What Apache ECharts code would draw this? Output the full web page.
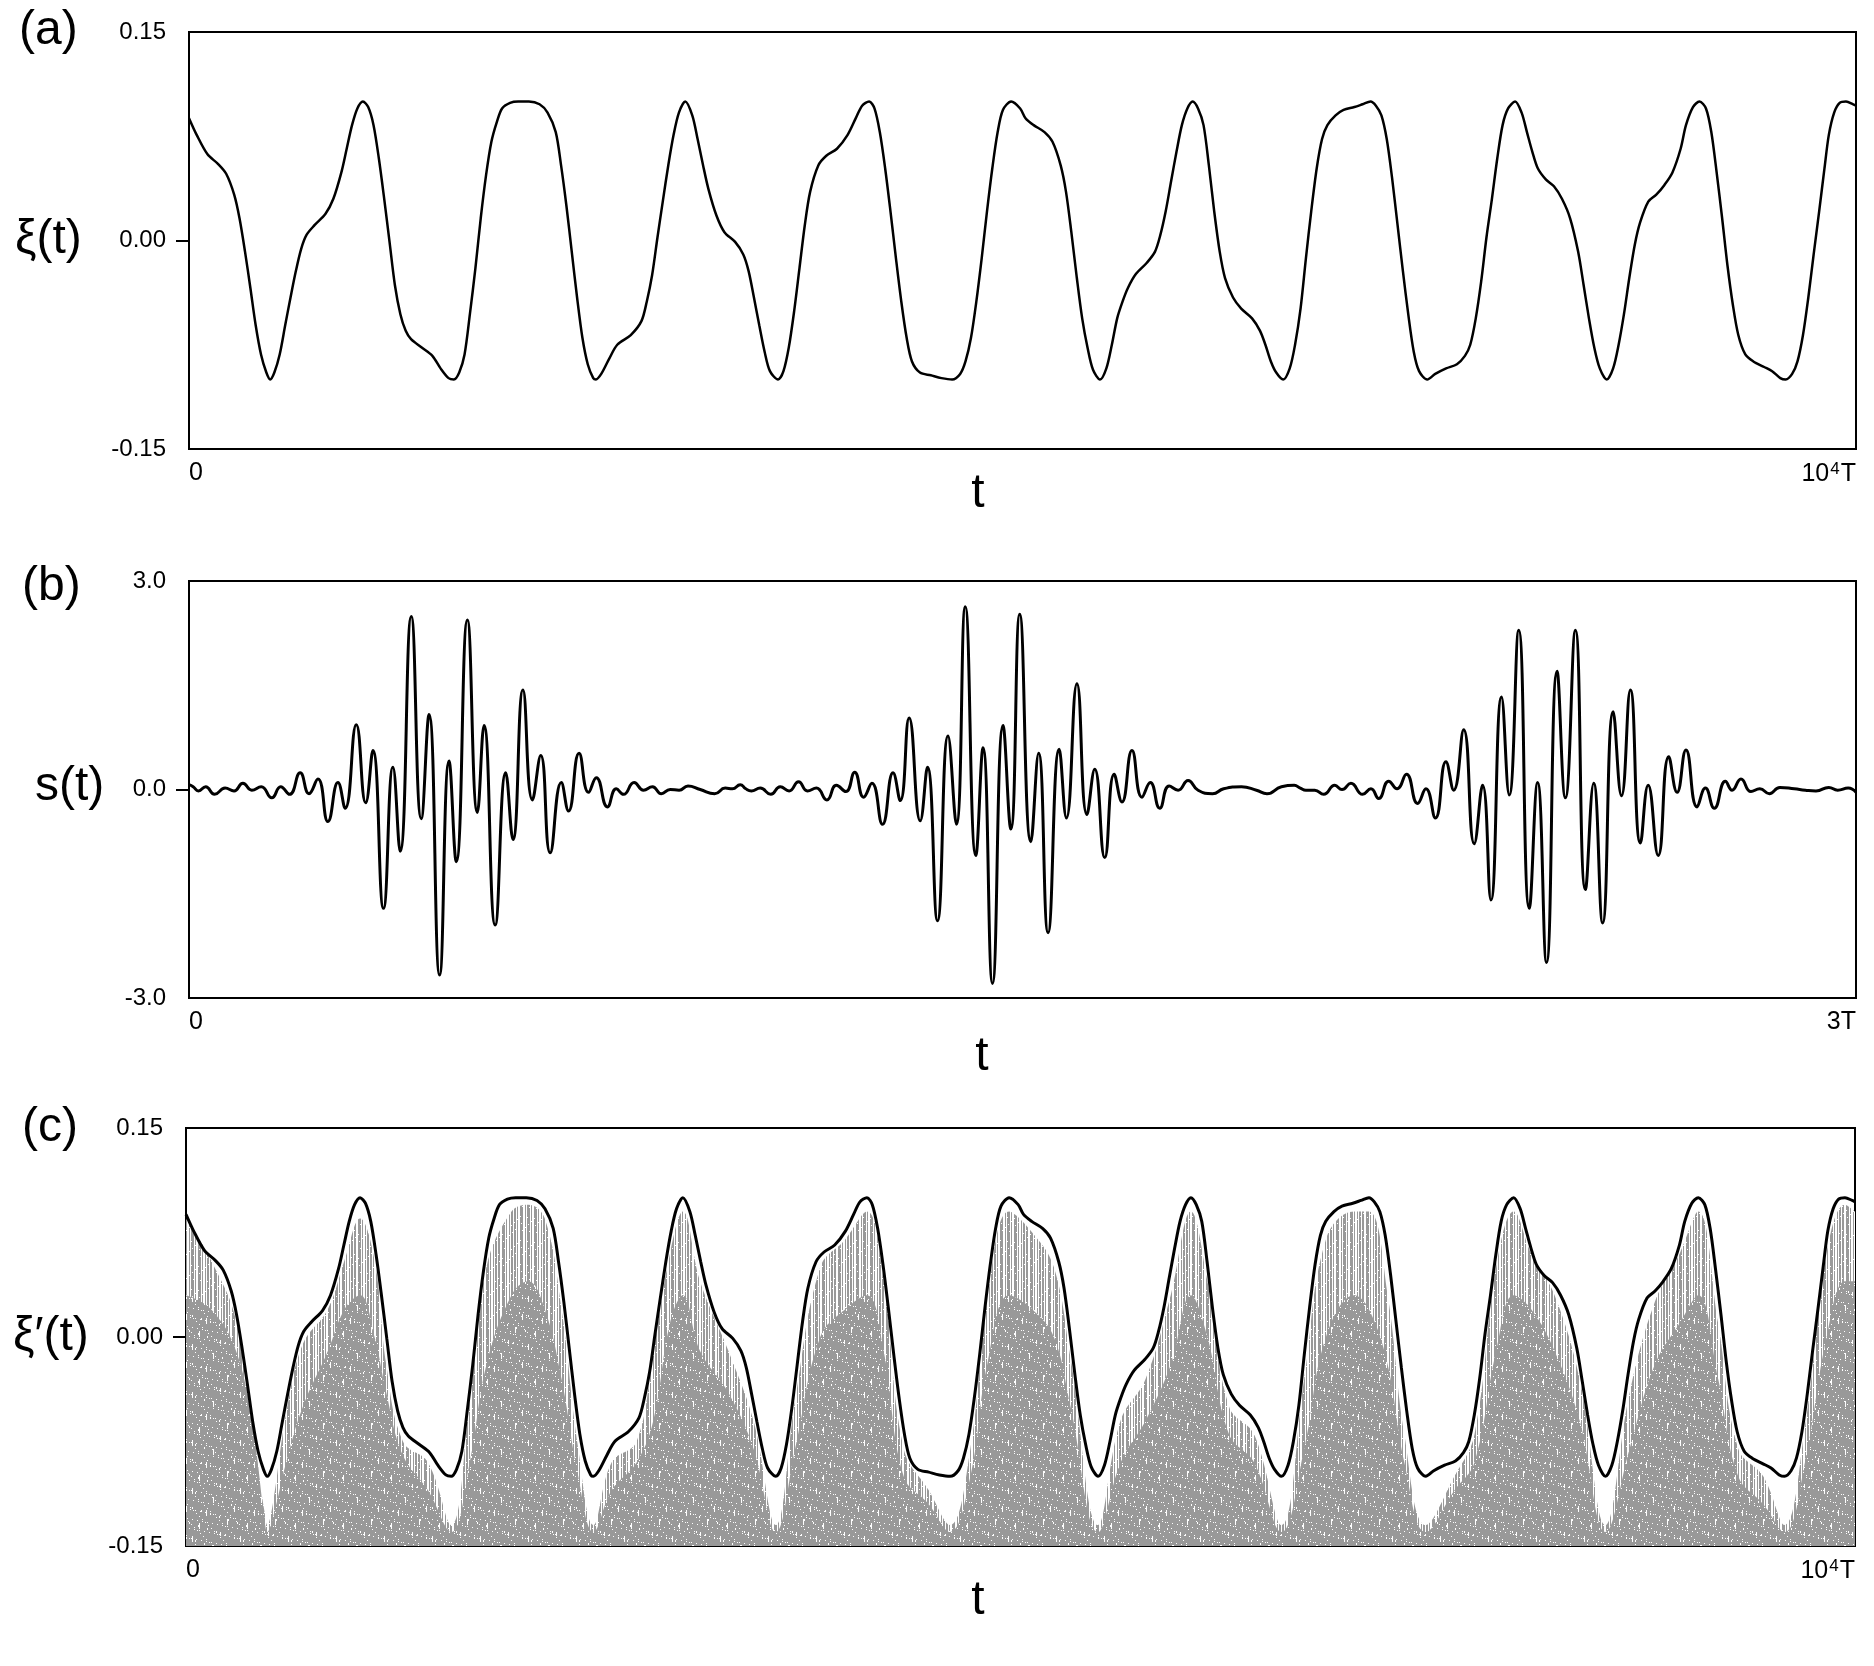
<!DOCTYPE html>
<html>
<head>
<meta charset="utf-8">
<script src="https://cdn.jsdelivr.net/npm/echarts@6/dist/echarts.min.js"></script>
<style>
html,body{margin:0;padding:0;background:#fff;}
#c{width:1874px;height:1666px;}
</style>
</head>
<body>
<div id="c"></div>
<script>
// ---------- data ----------
// panel (a) and black curve of panel (c): xi(t), t in units of T (0 .. 10^4 T)
const xiData = [[0,0.088],[46,0.076],[111,0.062],[175,0.055],[223,0.048],[271,0.033],[303,0.016],[336,-0.008],[368,-0.034],[400,-0.061],[432,-0.082],[464,-0.095],[487,-0.100],[512,-0.095],[544,-0.082],[577,-0.061],[609,-0.041],[641,-0.022],[673,-0.006],[705,0.004],[753,0.011],[818,0.019],[866,0.030],[914,0.049],[946,0.066],[978,0.083],[1010,0.095],[1043,0.100],[1075,0.096],[1107,0.083],[1139,0.059],[1171,0.030],[1203,-0.001],[1235,-0.032],[1268,-0.053],[1300,-0.065],[1332,-0.071],[1396,-0.077],[1460,-0.083],[1509,-0.092],[1557,-0.099],[1589,-0.100],[1621,-0.095],[1653,-0.082],[1685,-0.053],[1718,-0.020],[1750,0.016],[1782,0.047],[1814,0.071],[1846,0.085],[1878,0.095],[1926,0.099],[1975,0.100],[2039,0.100],[2103,0.098],[2151,0.092],[2200,0.078],[2232,0.054],[2264,0.025],[2296,-0.008],[2328,-0.041],[2360,-0.070],[2392,-0.089],[2425,-0.099],[2441,-0.100],[2473,-0.096],[2521,-0.085],[2569,-0.075],[2650,-0.068],[2714,-0.058],[2746,-0.044],[2778,-0.025],[2810,0.002],[2842,0.028],[2875,0.054],[2907,0.076],[2939,0.092],[2977,0.100],[3019,0.090],[3051,0.073],[3084,0.054],[3116,0.037],[3164,0.018],[3212,0.006],[3276,-0.001],[3325,-0.010],[3357,-0.022],[3389,-0.041],[3421,-0.061],[3453,-0.080],[3485,-0.094],[3534,-0.100],[3566,-0.094],[3598,-0.077],[3630,-0.051],[3662,-0.020],[3694,0.011],[3726,0.035],[3775,0.054],[3823,0.061],[3887,0.066],[3951,0.076],[4000,0.088],[4038,0.097],[4080,0.100],[4112,0.095],[4144,0.078],[4176,0.052],[4208,0.021],[4241,-0.013],[4273,-0.044],[4305,-0.070],[4337,-0.087],[4385,-0.095],[4450,-0.097],[4514,-0.099],[4578,-0.100],[4626,-0.096],[4658,-0.087],[4691,-0.070],[4723,-0.044],[4755,-0.013],[4787,0.021],[4819,0.052],[4851,0.078],[4883,0.094],[4932,0.100],[4986,0.095],[5018,0.088],[5067,0.083],[5132,0.078],[5180,0.071],[5229,0.054],[5261,0.035],[5293,0.006],[5326,-0.027],[5358,-0.056],[5390,-0.077],[5423,-0.093],[5465,-0.100],[5503,-0.092],[5536,-0.075],[5568,-0.056],[5600,-0.044],[5633,-0.034],[5681,-0.024],[5746,-0.016],[5795,-0.008],[5827,0.004],[5859,0.021],[5892,0.043],[5924,0.064],[5956,0.083],[5989,0.095],[6021,0.100],[6053,0.095],[6086,0.083],[6118,0.054],[6150,0.021],[6183,-0.008],[6215,-0.027],[6263,-0.041],[6312,-0.049],[6377,-0.056],[6425,-0.065],[6457,-0.075],[6490,-0.087],[6522,-0.095],[6564,-0.100],[6603,-0.092],[6635,-0.075],[6668,-0.049],[6700,-0.013],[6732,0.021],[6765,0.052],[6797,0.073],[6829,0.083],[6878,0.090],[6926,0.094],[6991,0.096],[7040,0.098],[7088,0.100],[7120,0.097],[7153,0.090],[7185,0.073],[7217,0.045],[7250,0.011],[7282,-0.022],[7314,-0.053],[7347,-0.080],[7379,-0.094],[7428,-0.100],[7476,-0.096],[7541,-0.092],[7606,-0.089],[7654,-0.083],[7686,-0.075],[7719,-0.056],[7751,-0.030],[7783,0.002],[7816,0.030],[7848,0.059],[7880,0.083],[7913,0.095],[7955,0.100],[7994,0.092],[8026,0.078],[8058,0.064],[8091,0.052],[8139,0.044],[8188,0.039],[8236,0.030],[8285,0.016],[8333,-0.008],[8366,-0.032],[8398,-0.056],[8430,-0.077],[8463,-0.092],[8505,-0.100],[8543,-0.092],[8576,-0.075],[8608,-0.053],[8640,-0.027],[8673,-0.003],[8705,0.013],[8754,0.028],[8802,0.033],[8851,0.040],[8899,0.049],[8948,0.066],[8980,0.083],[9022,0.096],[9061,0.100],[9100,0.095],[9132,0.078],[9164,0.049],[9197,0.016],[9229,-0.018],[9261,-0.046],[9294,-0.068],[9336,-0.082],[9384,-0.087],[9449,-0.091],[9497,-0.094],[9546,-0.099],[9578,-0.100],[9617,-0.096],[9649,-0.087],[9682,-0.068],[9714,-0.041],[9746,-0.010],[9779,0.021],[9811,0.052],[9837,0.076],[9869,0.092],[9902,0.099],[9940,0.100],[9983,0.098],[10000,0.097]];

// panel (b): s(t), t in units of T (0 .. 3T)
const sData = [[0,0.07],[0.0075,0.04],[0.017,-0.02],[0.030,0.04],[0.046,-0.07],[0.065,0.02],[0.081,-0.02],[0.097,0.09],[0.113,-0.01],[0.130,0.04],[0.149,-0.12],[0.165,0.04],[0.181,-0.07],[0.200,0.24],[0.216,-0.06],[0.232,0.15],[0.250,-0.46],[0.268,0.10],[0.281,-0.27],[0.301,0.93],[0.318,-0.19],[0.331,0.56],[0.350,-1.71],[0.367,0.32],[0.380,-0.89],[0.400,2.49],[0.418,-0.42],[0.432,1.08],[0.451,-2.67],[0.468,0.41],[0.481,-1.04],[0.501,2.44],[0.519,-0.33],[0.531,0.92],[0.551,-1.95],[0.570,0.24],[0.583,-0.72],[0.601,1.43],[0.618,-0.15],[0.633,0.49],[0.650,-0.91],[0.670,0.10],[0.683,-0.31],[0.702,0.52],[0.719,-0.04],[0.733,0.17],[0.753,-0.25],[0.769,0.01],[0.782,-0.07],[0.801,0.10],[0.818,-0.01],[0.834,0.04],[0.850,-0.06],[0.866,0.00],[0.882,-0.01],[0.898,0.05],[0.920,0.00],[0.946,-0.06],[0.965,0.02],[0.978,0.01],
[0.992,0.07],[1.002,0.01],[1.012,-0.02],[1.028,0.02],[1.047,-0.07],[1.064,0.04],[1.080,-0.02],[1.097,0.11],[1.113,-0.02],[1.129,0.02],[1.148,-0.15],[1.165,0.06],[1.182,-0.03],[1.198,0.25],[1.214,-0.11],[1.229,0.09],[1.248,-0.50],[1.267,0.24],[1.280,-0.16],[1.296,1.03],[1.316,-0.45],[1.329,0.32],[1.347,-1.89],[1.366,0.77],[1.381,-0.50],[1.397,2.63],[1.416,-0.95],[1.429,0.60],[1.446,-2.79],[1.465,0.92],[1.479,-0.57],[1.495,2.52],[1.515,-0.75],[1.529,0.52],[1.546,-2.06],[1.566,0.58],[1.579,-0.41],[1.598,1.52],[1.616,-0.36],[1.630,0.29],[1.648,-0.98],[1.665,0.22],[1.679,-0.18],[1.697,0.56],[1.715,-0.11],[1.730,0.10],[1.747,-0.27],[1.764,0.05],[1.780,-0.01],[1.798,0.13],[1.816,-0.01],[1.842,-0.06],[1.862,0.01],[1.894,0.04],[1.921,-0.01],[1.940,-0.06],[1.966,0.04],[1.989,0.06],
[2.000,0.02],[2.010,-0.01],[2.026,-0.01],[2.042,-0.07],[2.062,0.06],[2.075,0.00],[2.091,0.09],[2.112,-0.07],[2.127,0.01],[2.141,-0.13],[2.159,0.12],[2.174,0.01],[2.191,0.22],[2.211,-0.20],[2.226,0.01],[2.243,-0.41],[2.262,0.40],[2.276,-0.01],[2.294,0.86],[2.313,-0.78],[2.328,0.06],[2.343,-1.59],[2.362,1.33],[2.376,-0.08],[2.393,2.29],[2.412,-1.71],[2.427,0.10],[2.443,-2.49],[2.462,1.70],[2.477,-0.12],[2.495,2.29],[2.513,-1.44],[2.528,0.09],[2.544,-1.92],[2.563,1.12],[2.578,-0.09],[2.594,1.43],[2.612,-0.77],[2.626,0.06],[2.644,-0.95],[2.663,0.47],[2.678,-0.04],[2.694,0.57],[2.714,-0.25],[2.729,0.02],[2.745,-0.27],[2.765,0.12],[2.777,-0.01],[2.793,0.15],[2.811,-0.03],[2.827,0.01],[2.844,-0.06],[2.863,0.03],[2.889,0.01],[2.909,-0.01],[2.928,-0.02],[2.951,0.03],[2.967,-0.01],[2.986,0.02],[3.000,-0.04]];

// panel (c): noisy signal xi'(t) shown as grey band; upper edge of sparse streaks and of dense grey
const greyT     = [0,150,300,400,470,487,520,600,700,850,950,1043,1130,1200,1300,1450,1589,1700,1800,1950,2050,2150,2250,2350,2441,2550,2700,2800,2900,2977,3080,3250,3400,3534,3650,3800,3950,4080,4180,4300,4450,4578,4700,4800,4932,5070,5200,5300,5465,5600,5750,5900,6021,6120,6250,6400,6564,6700,6830,7000,7088,7200,7300,7428,7600,7720,7850,7955,8060,8200,8350,8505,8650,8800,8950,9061,9180,9300,9450,9578,9700,9830,9940,10000];
const greyOuter = [0.085,0.055,0.012,-0.07,-0.125,-0.135,-0.12,-0.055,-0.005,0.02,0.055,0.085,0.055,-0.02,-0.075,-0.09,-0.135,-0.045,0.05,0.09,0.095,0.085,0.02,-0.08,-0.135,-0.09,-0.075,-0.01,0.06,0.09,0.04,-0.01,-0.06,-0.135,-0.045,0.05,0.07,0.09,0.04,-0.08,-0.11,-0.135,-0.08,0.025,0.09,0.075,0.05,-0.015,-0.135,-0.06,-0.03,0.03,0.09,0.04,-0.05,-0.07,-0.135,-0.03,0.07,0.09,0.09,0.03,-0.07,-0.135,-0.1,-0.07,0.05,0.09,0.06,0.03,-0.03,-0.135,-0.04,0.025,0.06,0.09,0.01,-0.08,-0.1,-0.135,-0.065,0.06,0.095,0.09];
const greyInner = [0.03,0.02,-0.01,-0.065,-0.13,-0.14,-0.13,-0.09,-0.05,-0.01,0.02,0.03,0.0,-0.04,-0.085,-0.11,-0.14,-0.09,-0.02,0.03,0.04,0.02,-0.03,-0.1,-0.14,-0.11,-0.09,-0.06,0.01,0.03,-0.01,-0.04,-0.08,-0.14,-0.08,0.0,0.02,0.03,-0.01,-0.1,-0.12,-0.14,-0.1,-0.02,0.03,0.02,0.0,-0.05,-0.14,-0.09,-0.06,-0.02,0.03,0.0,-0.07,-0.09,-0.14,-0.08,0.0,0.03,0.02,-0.02,-0.09,-0.14,-0.11,-0.09,-0.01,0.03,0.02,-0.01,-0.06,-0.14,-0.08,-0.02,0.01,0.03,-0.03,-0.1,-0.12,-0.14,-0.09,0.0,0.04,0.04];

// axis ticks / labels
const yLabelsXi = [-0.15, 0, 0.15];
const yLabelsS  = [-3, 0, 3];
const xMaxXi = 10000;
const xMaxS  = 3;

// ---------- fill textures (style only) ----------
const GREY = '#999999';
function stripePattern() {
  // vertical grey streaks separated by white gaps, with a few white specks
  const cols = '110100111010010110110011101001011011010011100101';
  const c = document.createElement('canvas');
  c.width = cols.length; c.height = 24;
  const g = c.getContext('2d');
  g.fillStyle = '#fff'; g.fillRect(0, 0, c.width, c.height);
  g.fillStyle = GREY;
  for (let i = 0; i < cols.length; i++) if (cols[i] === '1') g.fillRect(i, 0, 1, c.height);
  g.fillStyle = '#fff';
  for (let i = 0; i < cols.length; i++) g.fillRect(i, (i * 7) % 24, 1, 1);
  return c;
}
function speckPattern() {
  // dense grey with sparse white specks
  const c = document.createElement('canvas');
  c.width = 48; c.height = 48;
  const g = c.getContext('2d');
  g.fillStyle = GREY; g.fillRect(0, 0, 48, 48);
  g.fillStyle = '#fff';
  for (let i = 0; i < 48; i++) {
    g.fillRect(i, (i * 17 + 5) % 48, 1, 1);
    g.fillRect(i, (i * 29 + 31) % 48, 1, 1);
    if (i % 3 === 0) g.fillRect(i, (i * 11 + 19) % 48, 1, 2);
  }
  for (let i = 0; i < 48; i += 7) g.fillRect(i, (i * 5) % 48, 1, 6);
  return c;
}

// ---------- chart ----------
const FONT = "'Liberation Sans', Arial, Helvetica, sans-serif";
const chart = echarts.init(document.getElementById('c'), null, {renderer: 'canvas'});

const greyOuterData = greyT.map((t, i) => [t, greyOuter[i]]);
const greyInnerData = greyT.map((t, i) => [t, greyInner[i]]);

const grids = [
  {left: 189, top: 32,   width: 1667, height: 417},
  {left: 189, top: 581,  width: 1667, height: 417},
  {left: 186, top: 1128, width: 1669, height: 418}
];
grids.forEach(g => { g.show = true; g.borderColor = '#000'; g.borderWidth = 2; g.backgroundColor = 'transparent'; });

function xAxis(idx, max, maxLabel) {
  return {
    type: 'value', gridIndex: idx, min: 0, max: max,
    axisLine: {show: false}, axisTick: {show: false}, splitLine: {show: false},
    axisLabel: {
      show: true, customValues: [0, max], margin: 12,
      alignMinLabel: 'left', alignMaxLabel: 'right',
      fontSize: 25, color: '#000', fontFamily: FONT,
      formatter: v => v === 0 ? '0' : maxLabel,
      rich: {
        n: {fontSize: 25, color: '#000', fontFamily: FONT},
        s: {fontSize: 17, color: '#000', fontFamily: FONT, verticalAlign: 'top', padding: [0, 1, 10, 1]}
      }
    }
  };
}
function yAxis(idx, labels, digits) {
  return {
    type: 'value', gridIndex: idx, min: labels[0], max: labels[labels.length - 1],
    axisLine: {show: false}, splitLine: {show: false},
    axisTick: {show: true, customValues: [0], length: 13, lineStyle: {color: '#000', width: 2}},
    axisLabel: {
      show: true, customValues: labels, margin: 23,
      fontSize: 24, color: '#000', fontFamily: FONT,
      formatter: v => Number(v).toFixed(digits)
    }
  };
}

const big = {fontSize: 48, fontWeight: 'normal', color: '#000', fontFamily: FONT};
const option = {
  animation: false,
  backgroundColor: '#fff',
  title: [
    {text: '(a)', left: 19, top: 7, padding: 0, textStyle: big},
    {text: 'ξ(t)', left: 15, top: 216, padding: 0, textStyle: big},
    {text: 't', left: 978, top: 470, padding: 0, textAlign: 'center', textStyle: big},
    {text: '(b)', left: 22, top: 563, padding: 0, textStyle: big},
    {text: 's(t)', left: 35, top: 763, padding: 0, textStyle: big},
    {text: 't', left: 982, top: 1033, padding: 0, textAlign: 'center', textStyle: big},
    {text: '(c)', left: 22, top: 1104, padding: 0, textStyle: big},
    {text: 'ξ′(t)', left: 13, top: 1313, padding: 0, textStyle: big},
    {text: 't', left: 978, top: 1577, padding: 0, textAlign: 'center', textStyle: big}
  ],
  grid: grids,
  xAxis: [
    xAxis(0, xMaxXi, '{n|10}{s|4}{n|T}'),
    xAxis(1, xMaxS, '3T'),
    xAxis(2, xMaxXi, '{n|10}{s|4}{n|T}')
  ],
  yAxis: [
    yAxis(0, yLabelsXi, 2),
    yAxis(1, yLabelsS, 1),
    yAxis(2, yLabelsXi, 2)
  ],
  series: [
    {type: 'line', xAxisIndex: 0, yAxisIndex: 0, data: xiData, symbol: 'none', smooth: 0.3,
     lineStyle: {color: '#000', width: 2.5}, silent: true},
    {type: 'line', xAxisIndex: 1, yAxisIndex: 1, data: sData, symbol: 'none', smooth: 0.5,
     lineStyle: {color: '#000', width: 3}, silent: true},
    {type: 'line', xAxisIndex: 2, yAxisIndex: 2, data: greyOuterData, symbol: 'none', smooth: 0.4,
     lineStyle: {width: 0, color: GREY},
     areaStyle: {color: {image: stripePattern(), repeat: 'repeat'}, opacity: 1, origin: 'start'}, silent: true},
    {type: 'line', xAxisIndex: 2, yAxisIndex: 2, data: greyInnerData, symbol: 'none', smooth: 0.4,
     lineStyle: {width: 0, color: GREY},
     areaStyle: {color: {image: speckPattern(), repeat: 'repeat'}, opacity: 1, origin: 'start'}, silent: true},
    {type: 'line', xAxisIndex: 2, yAxisIndex: 2, data: xiData, symbol: 'none', smooth: 0.3,
     lineStyle: {color: '#000', width: 3}, silent: true}
  ]
};
chart.setOption(option);
</script>
</body>
</html>
